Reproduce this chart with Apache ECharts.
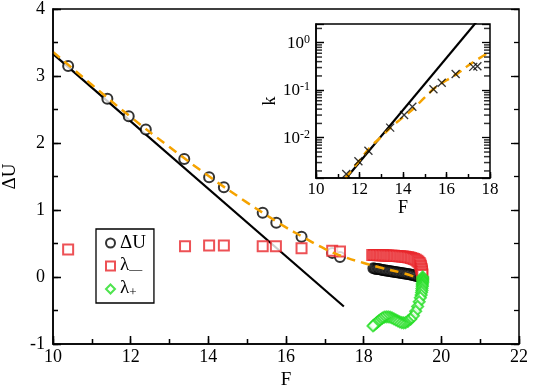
<!DOCTYPE html>
<html><head><meta charset="utf-8">
<script src="https://cdn.jsdelivr.net/npm/echarts@6/dist/echarts.min.js"></script>
<style>html,body{margin:0;padding:0;background:#fff}#c{width:542px;height:386px}</style>
</head><body><div id="c"></div>
<script>
// ---- main panel data ----
const deltaU = [[10.39,3.15],[11.40,2.66],[11.95,2.40],[12.39,2.20],[13.38,1.76],[14.02,1.49],[14.40,1.34],[15.40,0.96],[15.75,0.81],[16.40,0.60],[17.19,0.36],[17.39,0.30]];
const deltaUDense = [[18.25,0.13],[18.29,0.125],[18.33,0.12],[18.37,0.118],[18.41,0.115],[18.45,0.11],[18.49,0.105],[18.53,0.10],[18.57,0.098],[18.61,0.095],[18.65,0.09],[18.69,0.087],[18.73,0.083],[18.77,0.08],[18.81,0.076],[18.85,0.072],[18.89,0.069],[18.93,0.065],[18.97,0.061],[19.01,0.057],[19.05,0.053],[19.09,0.049],[19.13,0.045],[19.17,0.041],[19.21,0.036],[19.25,0.031],[19.29,0.026],[19.33,0.02],[19.37,0.014],[19.41,0.008],[19.45,0.002],[19.48,-0.005],[19.50,-0.012]];
const lambdaMinus = [[10.39,0.41],[13.40,0.46],[14.02,0.47],[14.40,0.47],[15.40,0.46],[15.74,0.46],[16.40,0.43],[17.19,0.39],[17.39,0.38]];
const lambdaMinusDense = [[18.22,0.33],[18.26,0.33],[18.30,0.328],[18.34,0.327],[18.38,0.326],[18.42,0.325],[18.46,0.324],[18.50,0.323],[18.54,0.322],[18.58,0.321],[18.62,0.32],[18.66,0.319],[18.70,0.318],[18.74,0.317],[18.78,0.316],[18.82,0.315],[18.86,0.313],[18.90,0.311],[18.94,0.309],[18.98,0.307],[19.02,0.305],[19.06,0.302],[19.10,0.299],[19.14,0.295],[19.18,0.29],[19.22,0.284],[19.26,0.277],[19.30,0.268],[19.34,0.257],[19.38,0.243],[19.41,0.227],[19.44,0.208],[19.46,0.188],[19.47,0.166],[19.48,0.143],[19.49,0.12],[19.50,0.097],[19.50,0.074],[19.51,0.05],[19.51,0.028]];
const lambdaPlus = [[19.52,0.0],[19.52,-0.02],[19.52,-0.04],[19.52,-0.06],[19.52,-0.08],[19.51,-0.10],[19.51,-0.12],[19.51,-0.14],[19.50,-0.17],[19.50,-0.20],[19.49,-0.23],[19.48,-0.27],[19.46,-0.31],[19.43,-0.37],[19.39,-0.44],[19.34,-0.51],[19.28,-0.58],[19.21,-0.63],[19.14,-0.66],[19.08,-0.68],[19.03,-0.685],[18.98,-0.68],[18.93,-0.67],[18.88,-0.655],[18.83,-0.64],[18.78,-0.625],[18.73,-0.61],[18.68,-0.60],[18.63,-0.595],[18.58,-0.595],[18.53,-0.60],[18.48,-0.615],[18.43,-0.635],[18.39,-0.655],[18.35,-0.675],[18.31,-0.695],[18.27,-0.715],[18.24,-0.73]];
const linearFit = [[10,3.33],[17.49,-0.44]];
const curveFit = [[10,3.36],[11,2.87],[12,2.39],[13,1.94],[14,1.51],[15,1.11],[15.4,0.96],[16,0.74],[16.4,0.61],[17,0.42],[17.5,0.30],[18,0.21],[18.5,0.13],[19,0.06],[19.32,0.0]];
// ---- inset data ----
const kPoints = [[11.39,0.00173],[11.95,0.0032],[12.41,0.0053],[13.41,0.0163],[14.05,0.030],[14.43,0.045],[15.40,0.105],[15.78,0.144],[16.42,0.219],[17.23,0.31],[17.42,0.32]];
const kLinear = [[11.3,0.00126],[17.5,3.2]];
const kCurve = [[11.35,0.00141],[12,0.00331],[12.5,0.00631],[13,0.01047],[13.5,0.0174],[14,0.0269],[14.5,0.0417],[15,0.0708],[15.5,0.115],[16,0.162],[16.5,0.224],[17,0.331],[17.5,0.468],[18,0.646]];

const FONT = 'Liberation Serif';
const X_MIN = 10, X_MAX = 22, Y_MIN = -1, Y_MAX = 4;
const IX_MIN = 10, IX_MAX = 18, K_MIN = 0.00142, K_MAX = 2.48;
const minorK = [];
[0.001,0.01,0.1,1].forEach(d=>{for(let m=2;m<=9;m++){const v=d*m; if(v>K_MIN && v<K_MAX) minorK.push(v);}});
const isPow10 = v => Math.abs(Math.log10(v) - Math.round(Math.log10(v))) < 1e-6;

// layout
const G = {l:53, t:9, w:466, h:335};
const I = {l:316, t:24, w:174, h:154};
const gridBox = (l,t,w,h,extra) => Object.assign({left:l, top:t, width:w, height:h, containLabel:false, outerBoundsMode:'none', backgroundColor:'transparent', z:0}, extra||{});
const grids = [
  gridBox(G.l, G.t, G.w, G.h, {show:true, borderColor:'#000', borderWidth:1.5}),       // 0 main
  gridBox(I.l, I.t, I.w, I.h, {show:true, borderColor:'#000', borderWidth:1.5}),       // 1 inset
  gridBox(G.l, G.t+G.h-8, G.w, 8),   // 2 main bottom major ticks
  gridBox(G.l, G.t+G.h-5, G.w, 5),   // 3 main bottom minor ticks
  gridBox(G.l, G.t, 8, G.h),         // 4 main left major
  gridBox(G.l, G.t, 5, G.h),         // 5 main left minor
  gridBox(G.l+G.w-8, G.t, 8, G.h),   // 6 main right major
  gridBox(G.l+G.w-5, G.t, 5, G.h),   // 7 main right minor
  gridBox(I.l, I.t+I.h-6, I.w, 6),   // 8 inset bottom major
  gridBox(I.l, I.t+I.h-4, I.w, 4),   // 9 inset bottom minor
  gridBox(I.l, I.t, 8, I.h),         // 10 inset left major
  gridBox(I.l+I.w-8, I.t, 8, I.h)    // 11 inset right major
];
const hidden = g => ({gridIndex:g, type:'value', show:false, min:0, max:1});
const tickAxis = (g, min, max, interval, minor, type) => {
  const a = {gridIndex:g, type:type||'value', min:min, max:max, z:10,
    axisLine:{show:false}, axisTick:{show:false}, axisLabel:{show:false},
    splitLine:{show:true, lineStyle:{color:'#000', width:1.3, type:'solid', opacity:1}},
    minorTick:{show:false, splitNumber:2},
    minorSplitLine:{show:!!minor, lineStyle:{color:'#000', width:1.3, opacity:1}}};
  if (interval) a.interval = interval;
  if (type==='log') a.logBase = 10;
  return a;
};
const axLine = () => ({show:true, onZero:false, lineStyle:{color:'#000', width:1.5}});
const tick = (len,w)=>({show:true, inside:true, length:len, lineStyle:{color:'#000', width:w}});

const xAxes = [
  {gridIndex:0, type:'value', min:X_MIN, max:X_MAX, interval:2, position:'bottom', z:10,
   name:'F', nameLocation:'middle', nameGap:24, nameTextStyle:{color:'#000', fontFamily:FONT, fontSize:19},
   axisLine:axLine(), splitLine:{show:false}, axisTick:tick(8,1.3), minorTick:Object.assign(tick(5,1.3),{splitNumber:2}),
   axisLabel:{show:true, margin:4, color:'#000', fontFamily:FONT, fontSize:18}},
  {gridIndex:1, type:'value', min:IX_MIN, max:IX_MAX, interval:2, position:'bottom', z:10,
   name:'F', nameLocation:'middle', nameGap:17, nameTextStyle:{color:'#000', fontFamily:FONT, fontSize:18},
   axisLine:axLine(), splitLine:{show:false}, axisTick:tick(6,1.2), minorTick:Object.assign(tick(4,1.2),{splitNumber:2}),
   axisLabel:{show:true, margin:3, color:'#000', fontFamily:FONT, fontSize:17}},
  tickAxis(2, X_MIN, X_MAX, 2, false), tickAxis(3, X_MIN, X_MAX, 2, true),
  hidden(4), hidden(5), hidden(6), hidden(7),
  tickAxis(8, IX_MIN, IX_MAX, 2, false), tickAxis(9, IX_MIN, IX_MAX, 2, true),
  hidden(10), hidden(11)
];
const yAxes = [
  {gridIndex:0, type:'value', min:Y_MIN, max:Y_MAX, interval:1, position:'left', z:10,
   name:'ΔU', nameLocation:'middle', nameGap:16, nameRotate:90, nameTextStyle:{color:'#000', fontFamily:FONT, fontSize:19},
   axisLine:axLine(), splitLine:{show:false}, axisTick:tick(8,1.3), minorTick:Object.assign(tick(5,1.3),{splitNumber:2}),
   axisLabel:{show:true, margin:8, color:'#000', fontFamily:FONT, fontSize:18}},
  {gridIndex:1, type:'log', logBase:10, min:K_MIN, max:K_MAX, position:'left', z:10,
   name:'k', nameLocation:'middle', nameGap:33, nameRotate:90, nameTextStyle:{color:'#000', fontFamily:FONT, fontSize:18},
   axisLine:axLine(), splitLine:{show:false}, axisTick:tick(8,1.2),
   axisLabel:{show:true, margin:6, showMinLabel:false, showMaxLabel:false, color:'#000', fontFamily:FONT,
     formatter:v=> isPow10(v) ? '{b|10}{s|'+Math.round(Math.log10(v))+'}' : '',
     rich:{b:{fontFamily:FONT, fontSize:17, lineHeight:18, verticalAlign:'bottom', color:'#000'}, s:{fontFamily:FONT, fontSize:12, lineHeight:12, verticalAlign:'top', color:'#000'}}}},
  hidden(2), hidden(3),
  tickAxis(4, Y_MIN, Y_MAX, 1, false), tickAxis(5, Y_MIN, Y_MAX, 1, true),
  tickAxis(6, Y_MIN, Y_MAX, 1, false), tickAxis(7, Y_MIN, Y_MAX, 1, true),
  hidden(8), hidden(9),
  tickAxis(10, K_MIN, K_MAX, null, false, 'log'), tickAxis(11, K_MIN, K_MAX, null, false, 'log')
];

const chart = echarts.init(document.getElementById('c'));
chart.setOption({
  animation:false,
  grid:grids,
  legend:{
    left:96, top:229, orient:'vertical', padding:[4,8,4,9], itemGap:3,
    borderColor:'#000', borderWidth:1.3, itemWidth:9, itemHeight:9,
    data:['ΔU','λ_','λ+'],
    itemStyle:{borderWidth:1},
    textStyle:{color:'#000', fontFamily:FONT, fontSize:19, lineHeight:20,
      rich:{a:{fontFamily:FONT, fontSize:19, lineHeight:20, verticalAlign:'top'}, s:{fontFamily:FONT, fontSize:13, lineHeight:10, verticalAlign:'bottom'}}},
    formatter:n=> n==='ΔU' ? 'ΔU' : (n==='λ_' ? '{a|λ}{s|—}' : '{a|λ}{s|+}')
  },
  xAxis:xAxes,
  yAxis:yAxes,
  series:[
    {type:'line', xAxisIndex:0, yAxisIndex:0, data:linearFit, showSymbol:false, symbol:'none', lineStyle:{color:'#000', width:2.2}, z:2},
    {name:'ΔU', type:'scatter', xAxisIndex:0, yAxisIndex:0, data:deltaU.concat(deltaUDense), symbol:'emptyCircle', symbolSize:10,
     itemStyle:{color:'#000', borderColor:'#000', borderWidth:1}, z:3},
    {name:'λ_', type:'scatter', xAxisIndex:0, yAxisIndex:0, data:lambdaMinus.concat(lambdaMinusDense), symbol:'emptyRect', symbolSize:10,
     itemStyle:{color:'#e8262a', borderColor:'#e8262a', borderWidth:1.1}, z:3},
    {name:'λ+', type:'scatter', xAxisIndex:0, yAxisIndex:0, data:lambdaPlus, symbol:'emptyDiamond', symbolSize:11,
     itemStyle:{color:'#22dd22', borderColor:'#22dd22', borderWidth:1.1}, z:4},
    {type:'line', xAxisIndex:0, yAxisIndex:0, data:curveFit, smooth:true, showSymbol:false, symbol:'none', lineStyle:{color:'#f5a300', width:2.5, type:[9,6]}, z:5},
    {type:'line', xAxisIndex:1, yAxisIndex:1, data:kLinear, showSymbol:false, symbol:'none', clip:true, lineStyle:{color:'#000', width:2.2}, z:6},
    {type:'line', xAxisIndex:1, yAxisIndex:1, data:kCurve, smooth:true, showSymbol:false, symbol:'none', clip:true, lineStyle:{color:'#f5a300', width:2.5, type:[9,6]}, z:7},
    {type:'scatter', xAxisIndex:1, yAxisIndex:1, data:kPoints, symbol:'path://M0,0L10,10M10,0L0,10', symbolSize:8,
     itemStyle:{color:'transparent', borderColor:'#000', borderWidth:1.3}, z:8},
    // log-axis minor tick marks on inset left/right edges
    {type:'scatter', xAxisIndex:1, yAxisIndex:1, data:minorK.map(v=>[IX_MIN,v]), symbol:'rect', symbolSize:[6,1.5], symbolOffset:[3,0], clip:false, silent:true,
     itemStyle:{color:'#000'}, z:9},
    {type:'scatter', xAxisIndex:1, yAxisIndex:1, data:minorK.map(v=>[IX_MAX,v]), symbol:'rect', symbolSize:[6,1.5], symbolOffset:[-3,0], clip:false, silent:true,
     itemStyle:{color:'#000'}, z:9}
  ]
});
</script></body></html>
